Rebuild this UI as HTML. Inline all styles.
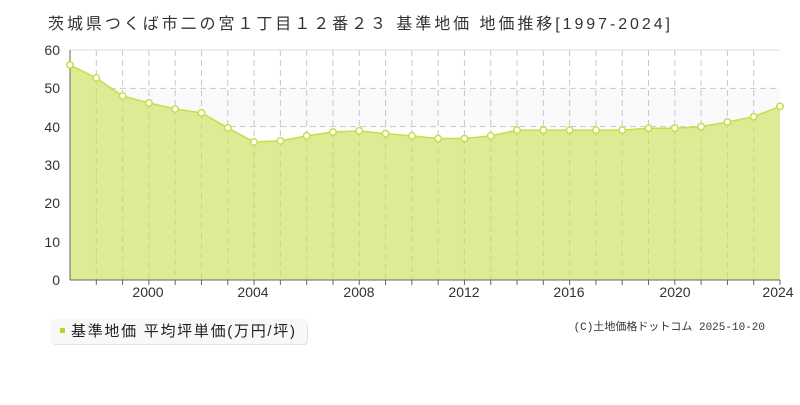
<!DOCTYPE html>
<html><head><meta charset="utf-8"><style>
body{margin:0;background:#fff;width:800px;height:400px;overflow:hidden;font-family:"Liberation Sans","Noto Sans CJK JP",sans-serif}
</style></head><body>
<svg id="s" width="800" height="400" xmlns="http://www.w3.org/2000/svg" font-family="'Liberation Sans','Noto Sans CJK JP',sans-serif">
<text x="48" y="29" font-size="16" fill="#333" textLength="622" lengthAdjust="spacing">茨城県つくば市二の宮１丁目１２番２３ 基準地価 地価推移[1997-2024]</text>
<rect x="70" y="88.3" width="710" height="38.3" fill="#fafafc"/>
<g id="grid" stroke="#c8c8c8" stroke-dasharray="6,4" stroke-width="1"></g>
<polygon id="area" fill="#dceb94"/>
<polyline id="line" fill="none" stroke="#c5df4a" stroke-width="1.5"/>
<g id="vg" stroke="#c8d87a" stroke-dasharray="6,4" stroke-width="1"></g>
<line x1="70" y1="50" x2="780" y2="50" stroke="#ddd"/>
<line x1="70" y1="50" x2="70" y2="280" stroke="#666"/>
<line x1="70" y1="280" x2="780" y2="280" stroke="#666"/>
<g id="ticks" stroke="#666"></g>
<g id="dots" fill="#fff" stroke="#c5df4a" stroke-width="1.5"></g>
<g font-size="14" fill="#333" text-anchor="end">
<text x="60" y="285">0</text><text x="60" y="247">10</text><text x="60" y="208">20</text>
<text x="60" y="170">30</text><text x="60" y="132">40</text><text x="60" y="93">50</text><text x="60" y="55">60</text>
</g>
<g font-size="14" fill="#333" text-anchor="middle">
<text x="148" y="297">2000</text><text x="253" y="297">2004</text><text x="359" y="297">2008</text>
<text x="464" y="297">2012</text><text x="569" y="297">2016</text><text x="675" y="297">2020</text><text x="778" y="297">2024</text>
</g>
<rect x="52" y="321" width="256" height="24" rx="4" fill="#e4e4e4"/>
<rect x="51" y="319" width="256" height="25" rx="4" fill="#f8f8f8"/>
<rect x="60" y="328" width="5" height="5" fill="#b8d62a"/>
<text x="71" y="336" font-size="15" fill="#222" textLength="224" lengthAdjust="spacing">基準地価 平均坪単価(万円/坪)</text>
<text x="765" y="330" font-size="11" fill="#333" text-anchor="end" font-family="'Liberation Mono','Noto Sans CJK JP',monospace">(C)土地価格ドットコム 2025-10-20</text>
</svg>
<script>
var d=[56.1,52.7,48,46.2,44.6,43.6,39.7,36,36.3,37.6,38.6,38.9,38.2,37.6,36.9,36.9,37.6,39.1,39.1,39.1,39.1,39.1,39.6,39.6,40,41.2,42.6,45.3];
var ns="http://www.w3.org/2000/svg";function X(i){return 70+i*710/27}function Y(v){return 280-v*230/60}
function el(p,t,a){var e=document.createElementNS(ns,t);for(var k in a)e.setAttribute(k,a[k]);document.getElementById(p).appendChild(e)}
for(var v=10;v<=50;v+=10)el('grid','line',{x1:70,x2:780,y1:Y(v),y2:Y(v)});
var pts=[];for(var i=0;i<d.length;i++)pts.push(X(i)+','+Y(d[i]));
document.getElementById('line').setAttribute('points',pts.join(' '));
document.getElementById('area').setAttribute('points','70,280 '+pts.join(' ')+' 780,280');
for(i=1;i<27;i++){el('grid','line',{x1:X(i),x2:X(i),y1:50,y2:Y(d[i])});el('vg','line',{x1:X(i),x2:X(i),y1:Y(d[i]),y2:280});el('ticks','line',{x1:X(i),x2:X(i),y1:280,y2:285})}
el('ticks','line',{x1:780,x2:780,y1:280,y2:285});
for(i=0;i<d.length;i++)el('dots','circle',{cx:X(i),cy:Y(d[i]),r:3.2});
</script>
</body></html>
